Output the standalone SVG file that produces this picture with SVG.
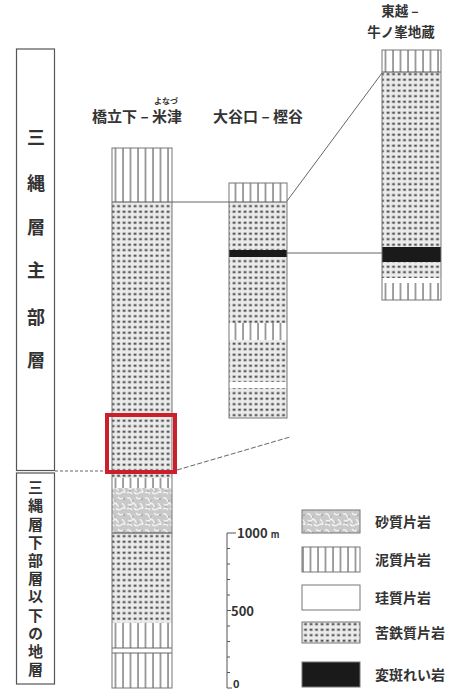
<svg xmlns="http://www.w3.org/2000/svg" width="451" height="692" viewBox="0 0 451 692">
<style>
.t{font-family:"Noto Sans CJK JP","Noto Sans",sans-serif;fill:#333;font-weight:bold}
.col{stroke:#777;stroke-width:1;fill:none}
.cn{stroke:#666;stroke-width:1;fill:none}
.vt{writing-mode:vertical-rl;letter-spacing:3.2px}
</style>
<defs>
<pattern id="mud" patternUnits="userSpaceOnUse" width="7.5" height="10" x="2">
<rect width="7.5" height="10" fill="#fff"/>
<line x1="1" y1="0" x2="1" y2="10" stroke="#555" stroke-width="1.1"/>
</pattern>
<pattern id="grn" patternUnits="userSpaceOnUse" width="5.5" height="5.5" x="1" y="1">
<rect width="5.5" height="5.5" fill="#ececec"/>
<rect x="0.5" y="0.5" width="3.2" height="2.4" fill="#888"/>
<rect x="1.2" y="1" width="1.4" height="1.3" fill="#333"/>
</pattern>
<pattern id="sand" patternUnits="userSpaceOnUse" width="18" height="16">
<rect width="18" height="16" fill="#c9c9c9"/>
<path d="M1 2q3 -1 4 2t3 1M10 1q2 3 5 1M2 8q2 2 4 0t4 2q2 1 3-1M14 7q2 2 3 5M1 13q3 -2 5 1M8 12q2 3 5 1t4 0" stroke="#f2f2f2" stroke-width="1.4" fill="none"/>
<circle cx="7" cy="5" r="0.8" fill="#888"/><circle cx="12" cy="10" r="0.8" fill="#888"/><circle cx="4" cy="11" r="0.7" fill="#888"/><circle cx="16" cy="3" r="0.7" fill="#888"/>
</pattern>
</defs>

<g id="stratum-box">
<rect x="16.5" y="49" width="38" height="421.5" fill="none" stroke="#555" stroke-width="1.2"/>
<text class="t" font-size="18" text-anchor="middle" x="36"><tspan x="36" y="144">三</tspan><tspan x="36" y="190">縄</tspan><tspan x="36" y="234">層</tspan><tspan x="36" y="277">主</tspan><tspan x="36" y="324">部</tspan><tspan x="36" y="367">層</tspan></text>
</g>
<g id="lower-box">
<rect x="16.5" y="473" width="38" height="211" fill="none" stroke="#555" stroke-width="1.2"/>
<text class="t vt" font-size="15" x="35.5" y="480">三縄層下部層以下の地層</text>
</g>

<g id="col1">
<text class="t" font-size="8" x="166" y="104" text-anchor="middle">よなづ</text>
<text class="t" font-size="15" x="137" y="122" text-anchor="middle">橋立下 – 米津</text>
<rect x="112" y="148" width="60" height="54" fill="url(#mud)"/>
<rect x="112" y="202" width="60" height="276" fill="url(#grn)"/>
<rect x="112" y="478" width="60" height="10" fill="url(#mud)"/>
<rect x="112" y="488" width="60" height="45" fill="url(#sand)"/>
<rect x="112" y="533" width="60" height="90" fill="url(#grn)"/>
<rect x="112" y="623" width="60" height="25" fill="url(#mud)"/>
<rect x="112" y="648" width="60" height="5" fill="#fff"/>
<rect x="112" y="653" width="60" height="35" fill="url(#mud)"/>
<line x1="112" y1="202" x2="172" y2="202" stroke="#555"/>
<line x1="112" y1="533" x2="172" y2="533" stroke="#444"/>
<line x1="112" y1="648" x2="172" y2="648" stroke="#666"/>
<line x1="112" y1="653" x2="172" y2="653" stroke="#666"/>
<rect x="112" y="148" width="60" height="540" class="col"/>
</g>
<g id="highlight">
<rect x="107" y="415" width="68" height="57" fill="none" stroke="#cc1f2c" stroke-width="4"/>
</g>

<g id="col2">
<text class="t" font-size="15" x="258" y="122" text-anchor="middle">大谷口 – 樫谷</text>
<rect x="229" y="183" width="58" height="19" fill="url(#mud)"/>
<rect x="229" y="202" width="58" height="48" fill="url(#grn)"/>
<rect x="229" y="250" width="58" height="7" fill="#1a1a1a"/>
<rect x="229" y="257" width="58" height="66" fill="url(#grn)"/>
<rect x="229" y="323" width="58" height="17" fill="url(#mud)"/>
<rect x="229" y="340" width="58" height="42" fill="url(#grn)"/>
<rect x="229" y="382" width="58" height="6" fill="#fff"/>
<rect x="229" y="388" width="58" height="30" fill="url(#grn)"/>
<line x1="229" y1="202" x2="287" y2="202" stroke="#555"/>
<rect x="229" y="183" width="58" height="235" class="col"/>
</g>

<g id="col3">
<text class="t" font-size="13.5" x="400" y="16" text-anchor="middle">東越 –</text>
<text class="t" font-size="13.5" x="401" y="37" text-anchor="middle">牛ノ峯地蔵</text>
<rect x="382" y="50" width="59" height="22" fill="url(#mud)"/>
<rect x="382" y="72" width="59" height="175" fill="url(#grn)"/>
<rect x="382" y="247" width="59" height="15" fill="#1a1a1a"/>
<rect x="382" y="262" width="59" height="16" fill="url(#grn)"/>
<rect x="382" y="278" width="59" height="5" fill="#fff"/>
<rect x="382" y="283" width="59" height="17" fill="url(#mud)"/>
<line x1="382" y1="72" x2="441" y2="72" stroke="#555"/>
<rect x="382" y="50" width="59" height="250" class="col"/>
</g>

<g id="connectors">
<line class="cn" x1="172" y1="202" x2="229" y2="202"/>
<line class="cn" x1="287" y1="201" x2="382" y2="73"/>
<line class="cn" x1="287" y1="253" x2="382" y2="253"/>
<line class="cn" x1="177" y1="470" x2="290" y2="437" stroke-dasharray="5 2"/>
<line class="cn" x1="55" y1="471" x2="105" y2="471" stroke-dasharray="3 2"/>
</g>

<g id="scale">
<path d="M236 533H227V688H232" fill="none" stroke="#555"/>
<path d="M227 548.5h3M227 564h3M227 579.5h3M227 595h3M227 610.5h4M227 626h3M227 641.5h3M227 657h3M227 672.5h3" stroke="#555"/>
<text class="t" font-weight="normal" font-size="13" x="237" y="538">1000 <tspan font-size="9">m</tspan></text>
<text class="t" font-weight="normal" font-size="13" x="231" y="616">500</text>
<text class="t" font-weight="normal" font-size="11" x="233" y="688">0</text>
</g>

<g id="legend">
<g id="lg-sand"><rect x="302" y="510" width="58" height="23" fill="url(#sand)" stroke="#777"/><text class="t" font-size="14" x="375" y="527">砂質片岩</text></g>
<g id="lg-mud"><rect x="302" y="547" width="58" height="25" fill="url(#mud)" stroke="#777"/><text class="t" font-size="14" x="375" y="565">泥質片岩</text></g>
<g id="lg-sil"><rect x="302" y="585" width="58" height="25" fill="#fff" stroke="#777"/><text class="t" font-size="14" x="375" y="603">珪質片岩</text></g>
<g id="lg-grn"><rect x="302" y="622" width="58" height="21" fill="url(#grn)" stroke="#777"/><text class="t" font-size="14" x="375" y="638">苦鉄質片岩</text></g>
<g id="lg-gab"><rect x="302" y="662" width="58" height="25" fill="#1a1a1a" stroke="#777"/><text class="t" font-size="14" x="375" y="680">変斑れい岩</text></g>
</g>
</svg>
